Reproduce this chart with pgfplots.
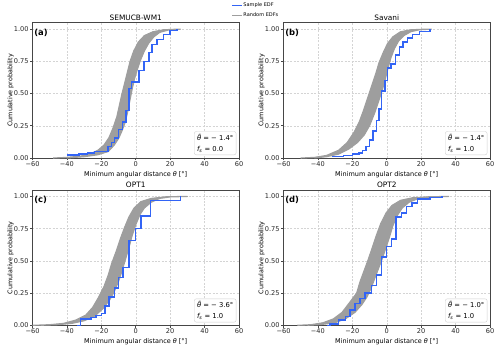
\documentclass[border=0pt]{standalone}
\usepackage{pgfplots}
\pgfplotsset{compat=1.18}
\usepackage{fontspec}
\setmainfont{DejaVu Sans}
\definecolor{edfblue}{RGB}{50,100,245}
\definecolor{edfgray}{RGB}{158,158,158}
\definecolor{gridc}{RGB}{212,212,212}
\definecolor{framec}{RGB}{70,70,70}
\pgfplotsset{
  panel/.style={
    width=206.5pt, height=135.3pt, scale only axis, anchor=south west,
    xmin=-60, xmax=60, ymin=0, ymax=1.05,
    xtick={-60,-40,-20,0,20,40,60},
    xticklabels={−60,−40,−20,0,20,40,60},
    ytick={0,0.25,0.5,0.75,1},
    yticklabels={0.00,0.25,0.50,0.75,1.00},
    tick label style={font=\fontsize{6.6}{7.5}\selectfont, text=black!85},
    xticklabel style={inner sep=1pt},
    yticklabel style={inner sep=1.5pt},
    xlabel={Minimum angular distance {\itshape θ} [°]},
    ylabel={Cumulative probability},
    xlabel style={font=\fontsize{6.5}{7.5}\selectfont, at={(axis description cs:0.5,-0.137)}, anchor=base},
    ylabel style={font=\fontsize{6.4}{7.5}\selectfont, at={(axis description cs:-0.098,0.5)}, anchor=base},
    title style={font=\fontsize{7.4}{8.5}\selectfont, at={(axis description cs:0.5,1.024)}, anchor=base, yshift=-6.6pt},
    grid=major,
    major grid style={gridc, dash pattern=on 2pt off 1.4pt, line width=0.45pt},
    axis line style={framec, line width=0.6pt},
    tick align=outside, tick pos=left,
    major tick length=2.2pt,
    every tick/.style={framec, line width=0.6pt},
    clip=true,
  },
  band/.style={fill=edfgray, draw=edfgray, line width=1.1pt, line join=round, forget plot},
  blueedf/.style={color=edfblue, draw=edfblue, line width=1.45pt, const plot, forget plot},
}
\tikzset{
  annot/.style={draw=black!18, rounded corners=2pt, fill=white, align=left, anchor=south east,
    font=\fontsize{6.8}{10.5}\selectfont, inner xsep=2.8pt, inner ysep=2.6pt},
  plabel/.style={anchor=north west, inner sep=0pt, font=\fontsize{8.4}{9}\selectfont\bfseries},
}
\begin{document}
\begin{tikzpicture}
\useasboundingbox (0,0) rectangle (500pt,349pt);
% (a)
\begin{axis}[panel, at={(32.5pt,191pt)}, title={SEMUCB-WM1},
  legend style={at={(axis description cs:0.962,1.152)}, anchor=north west, draw=none, fill=none,
    font=\fontsize{5}{5.5}\selectfont, inner sep=0pt, row sep=3.1pt,
    nodes={inner sep=0.8pt}, legend cell align=left},
  legend image code/.code={\draw[#1] (0pt,0pt) -- (10pt,0pt);}]
\addplot[band] coordinates {
(-48,0) (-40,0.005) (-32,0.015) (-26,0.035) (-22,0.06) (-18.5,0.10) (-15.5,0.16) (-13,0.24)
(-11,0.32) (-9.5,0.41) (-8,0.50) (-6.5,0.58) (-5,0.66) (-3.3,0.75) (-1.2,0.83) (1.5,0.90)
(5,0.95) (10,0.98) (16,0.995) (24,1.0)
(26,1.0) (19,0.993) (14,0.975) (10.5,0.94) (7.5,0.89) (5,0.83) (2.8,0.76) (1,0.69) (-0.8,0.61)
(-2.3,0.52) (-3.5,0.44) (-4.8,0.35) (-6.3,0.27) (-8,0.21) (-10,0.15) (-12.5,0.10) (-16,0.05)
(-22,0.025) (-30,0.01) (-40,0)};
\addplot[blueedf] coordinates {
(-40,0.025) (-33,0.03) (-28,0.04) (-24,0.05) (-16,0.09) (-14,0.12) (-12.4,0.155) (-10,0.22)
(-7.6,0.28) (-5.7,0.37) (-4,0.54) (-2.5,0.59) (1.9,0.68) (4.8,0.75) (7.6,0.82) (9.5,0.88)
(12.4,0.92) (16,0.96) (20,0.99) (24,1.0)};
\node[annot] at (rel axis cs:0.987,0.022) {{\itshape θ̃} = − 1.4°\\{\itshape f}\textsubscript{\itshape s} = 0.0};
\node[plabel] at (rel axis cs:0.008,0.955) {(a)};
\addlegendimage{draw=edfblue, color=edfblue, line width=1.3pt}
\addlegendentry{Sample EDF}
\addlegendimage{draw=edfgray, color=edfgray, line width=1.3pt}
\addlegendentry{Random EDFs}
\end{axis}
% (b)
\begin{axis}[panel, at={(283.5pt,191pt)}, title={Savani}]
\addplot[band] coordinates {
(-50,0) (-42,0.005) (-35,0.02) (-28,0.06) (-23,0.12) (-19,0.20) (-16,0.28) (-13.5,0.37)
(-11,0.47) (-9,0.55) (-6.5,0.65) (-4.5,0.74) (-2,0.82) (0.5,0.89) (3.5,0.94) (8,0.98)
(14,0.995) (22,1.0)
(26,1.0) (19,0.995) (14,0.98) (10,0.95) (7,0.91) (4.5,0.85) (2.5,0.78) (1,0.71) (-0.5,0.63)
(-2.5,0.53) (-4.5,0.45) (-7,0.35) (-10,0.25) (-13,0.18) (-17,0.12) (-22,0.07) (-28,0.03)
(-35,0.01) (-42,0)};
\addplot[blueedf] coordinates {
(-32,0.01) (-25,0.02) (-20,0.03) (-16,0.04) (-14,0.06) (-12,0.09) (-10,0.14) (-8,0.21)
(-6,0.29) (-4.5,0.38) (-3,0.52) (-1,0.60) (0.5,0.70) (2.5,0.73) (5,0.80) (7.5,0.86)
(9.5,0.90) (12,0.93) (15,0.96) (19,0.98) (25,1.0)};
\node[annot] at (rel axis cs:0.987,0.022) {{\itshape θ̃} = − 1.4°\\{\itshape f}\textsubscript{\itshape s} = 1.0};
\node[plabel] at (rel axis cs:0.008,0.955) {(b)};
\end{axis}
% (c)
\begin{axis}[panel, at={(32.5pt,23.7pt)}, title={OPT1}]
\addplot[band] coordinates {
(-60,0) (-50,0.005) (-42,0.015) (-35,0.04) (-29,0.08) (-25,0.14) (-21.5,0.22) (-18.5,0.30)
(-16,0.39) (-14,0.48) (-11.5,0.57) (-9,0.67) (-6.5,0.76) (-4,0.84) (-1,0.91) (3,0.96)
(9,0.985) (18,0.998) (28,1.0)
(30,1.0) (20,0.996) (14,0.985) (9,0.955) (5,0.91) (2.5,0.86) (0,0.78) (-2,0.70) (-4,0.60)
(-6,0.51) (-8,0.42) (-10,0.34) (-12.5,0.26) (-15,0.20) (-19,0.13) (-24,0.07) (-30,0.035)
(-37,0.015) (-45,0.005) (-55,0)};
\addplot[blueedf] coordinates {
(-34,0) (-32,0.05) (-26,0.06) (-23,0.075) (-20,0.09) (-18,0.15) (-15.5,0.22) (-12.5,0.29)
(-10,0.37) (-7.5,0.45) (-4,0.66) (0,0.75) (3,0.85) (8.5,0.97) (26,1.0)};
\node[annot] at (rel axis cs:0.987,0.022) {{\itshape θ̃} = − 3.6°\\{\itshape f}\textsubscript{\itshape s} = 1.0};
\node[plabel] at (rel axis cs:0.008,0.955) {(c)};
\end{axis}
% (d)
\begin{axis}[panel, at={(283.5pt,23.7pt)}, title={OPT2}]
\addplot[band] coordinates {
(-52,0) (-44,0.005) (-37,0.02) (-31,0.05) (-26,0.10) (-22,0.17) (-17.5,0.25) (-15.5,0.34)
(-13,0.43) (-10.8,0.51) (-8.5,0.60) (-6,0.70) (-3.5,0.79) (-0.5,0.87) (3,0.93) (8,0.97)
(15,0.99) (25,0.998) (34,1.0)
(36,1.0) (26,0.996) (18,0.982) (13,0.955) (9,0.91) (6,0.85) (3.5,0.77) (1.5,0.68) (-0.5,0.60)
(-2.5,0.52) (-4.5,0.45) (-6.8,0.37) (-9,0.29) (-11.5,0.22) (-14.5,0.16) (-18.5,0.10) (-24,0.05)
(-30,0.02) (-38,0.006) (-46,0)};
\addplot[blueedf] coordinates {
(-34.5,0) (-33,0.01) (-28,0.04) (-24,0.07) (-21.4,0.12) (-18.5,0.17) (-15.6,0.21) (-12.7,0.25)
(-9,0.31) (-6,0.39) (-3,0.53) (0,0.61) (2.7,0.67) (5.5,0.84) (8.5,0.87) (11.4,0.92)
(14.7,0.95) (18,0.98) (25,0.99) (32,1.0)};
\node[annot] at (rel axis cs:0.987,0.022) {{\itshape θ̃} = − 1.0°\\{\itshape f}\textsubscript{\itshape s} = 1.0};
\node[plabel] at (rel axis cs:0.008,0.955) {(d)};
\end{axis}
\end{tikzpicture}
\end{document}
